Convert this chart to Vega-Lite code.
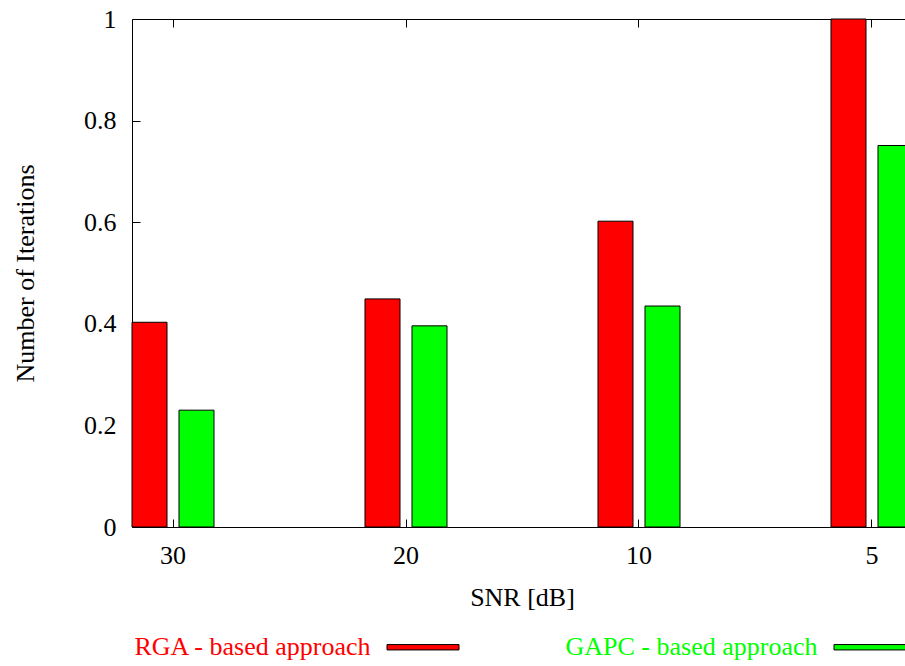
{
  "$schema": "https://vega.github.io/schema/vega-lite/v6.json",
  "autosize": {"type": "none"},
  "padding": {"left": 132, "top": 19, "right": 0, "bottom": 139},
  "width": 773,
  "height": 508,
  "background": "white",
  "data": {"values": [
    {"snr": "30", "series": "RGA - based approach", "iterations": 0.403},
    {"snr": "30", "series": "GAPC - based approach", "iterations": 0.230},
    {"snr": "20", "series": "RGA - based approach", "iterations": 0.449},
    {"snr": "20", "series": "GAPC - based approach", "iterations": 0.396},
    {"snr": "10", "series": "RGA - based approach", "iterations": 0.602},
    {"snr": "10", "series": "GAPC - based approach", "iterations": 0.435},
    {"snr": "5", "series": "RGA - based approach", "iterations": 1.0},
    {"snr": "5", "series": "GAPC - based approach", "iterations": 0.751}
  ]},
  "layer": [
    {
      "mark": {"type": "bar", "stroke": "black", "strokeWidth": 1},
      "encoding": {
        "x": {
          "field": "snr", "type": "ordinal", "sort": ["30", "20", "10", "5"],
          "scale": {"type": "band", "range": [0, 781], "paddingInner": 0.648, "paddingOuter": 0},
          "axis": {"orient": "bottom", "title": "SNR [dB]", "labelAngle": 0, "tickSize": -8, "labelPadding": 44,
                   "labelBaseline": "alphabetic", "titleX": 390, "titleY": 78, "titleBaseline": "alphabetic", "titleAlign": "center"}
        },
        "xOffset": {
          "field": "series", "type": "nominal", "sort": ["RGA - based approach", "GAPC - based approach"],
          "scale": {"paddingInner": 0.255, "paddingOuter": 0}
        },
        "y": {
          "field": "iterations", "type": "quantitative",
          "scale": {"domain": [0, 1], "nice": false},
          "axis": {"title": "Number of Iterations", "values": [0, 0.2, 0.4, 0.6, 0.8, 1], "format": "~g",
                   "tickSize": -8, "labelPadding": 24, "titleX": -99, "titleY": 254, "titleBaseline": "alphabetic",
                   "titleAlign": "center", "titleAngle": -90}
        },
        "color": {
          "field": "series", "type": "nominal", "sort": ["RGA - based approach", "GAPC - based approach"],
          "scale": {"domain": ["RGA - based approach", "GAPC - based approach"], "range": ["#ff0000", "#00ff00"]},
          "legend": {
            "orient": "none", "legendX": 254.5, "legendY": 591.5, "direction": "horizontal", "columns": 2, "title": null,
            "symbolType": "M-1,-0.075H1V0.075H-1Z", "symbolSize": 5184, "symbolStrokeColor": "black", "symbolStrokeWidth": 1,
            "symbolOpacity": 1, "labelFont": "Liberation Serif", "labelFontSize": 26, "labelLimit": 600,
            "labelAlign": "right", "labelOffset": -89, "labelBaseline": "middle", "columnPadding": 104,
            "padding": 0, "offset": 0,
            "encode": {
              "labels": {"update": {"fill": {"scale": "color", "field": "value"}}},
              "symbols": {"update": {"stroke": {"value": "black"}, "strokeWidth": {"value": 1}}}
            }
          }
        }
      }
    },
    {
      "mark": {"type": "bar", "opacity": 0},
      "encoding": {
        "x": {
          "field": "snr", "type": "ordinal", "sort": ["30", "20", "10", "5"],
          "scale": {"type": "band"},
          "axis": {"orient": "top", "title": null, "labels": false, "tickSize": -8, "domain": true}
        }
      }
    }
  ],
  "resolve": {"axis": {"x": "independent"}},
  "config": {
    "view": {"stroke": null},
    "font": "Liberation Serif",
    "axis": {
      "grid": false, "domainColor": "black", "tickColor": "black", "labelColor": "black", "titleColor": "black",
      "labelFont": "Liberation Serif", "labelFontSize": 26, "titleFont": "Liberation Serif", "titleFontSize": 26,
      "titleFontWeight": "normal", "domainWidth": 1, "tickWidth": 1
    }
  }
}
